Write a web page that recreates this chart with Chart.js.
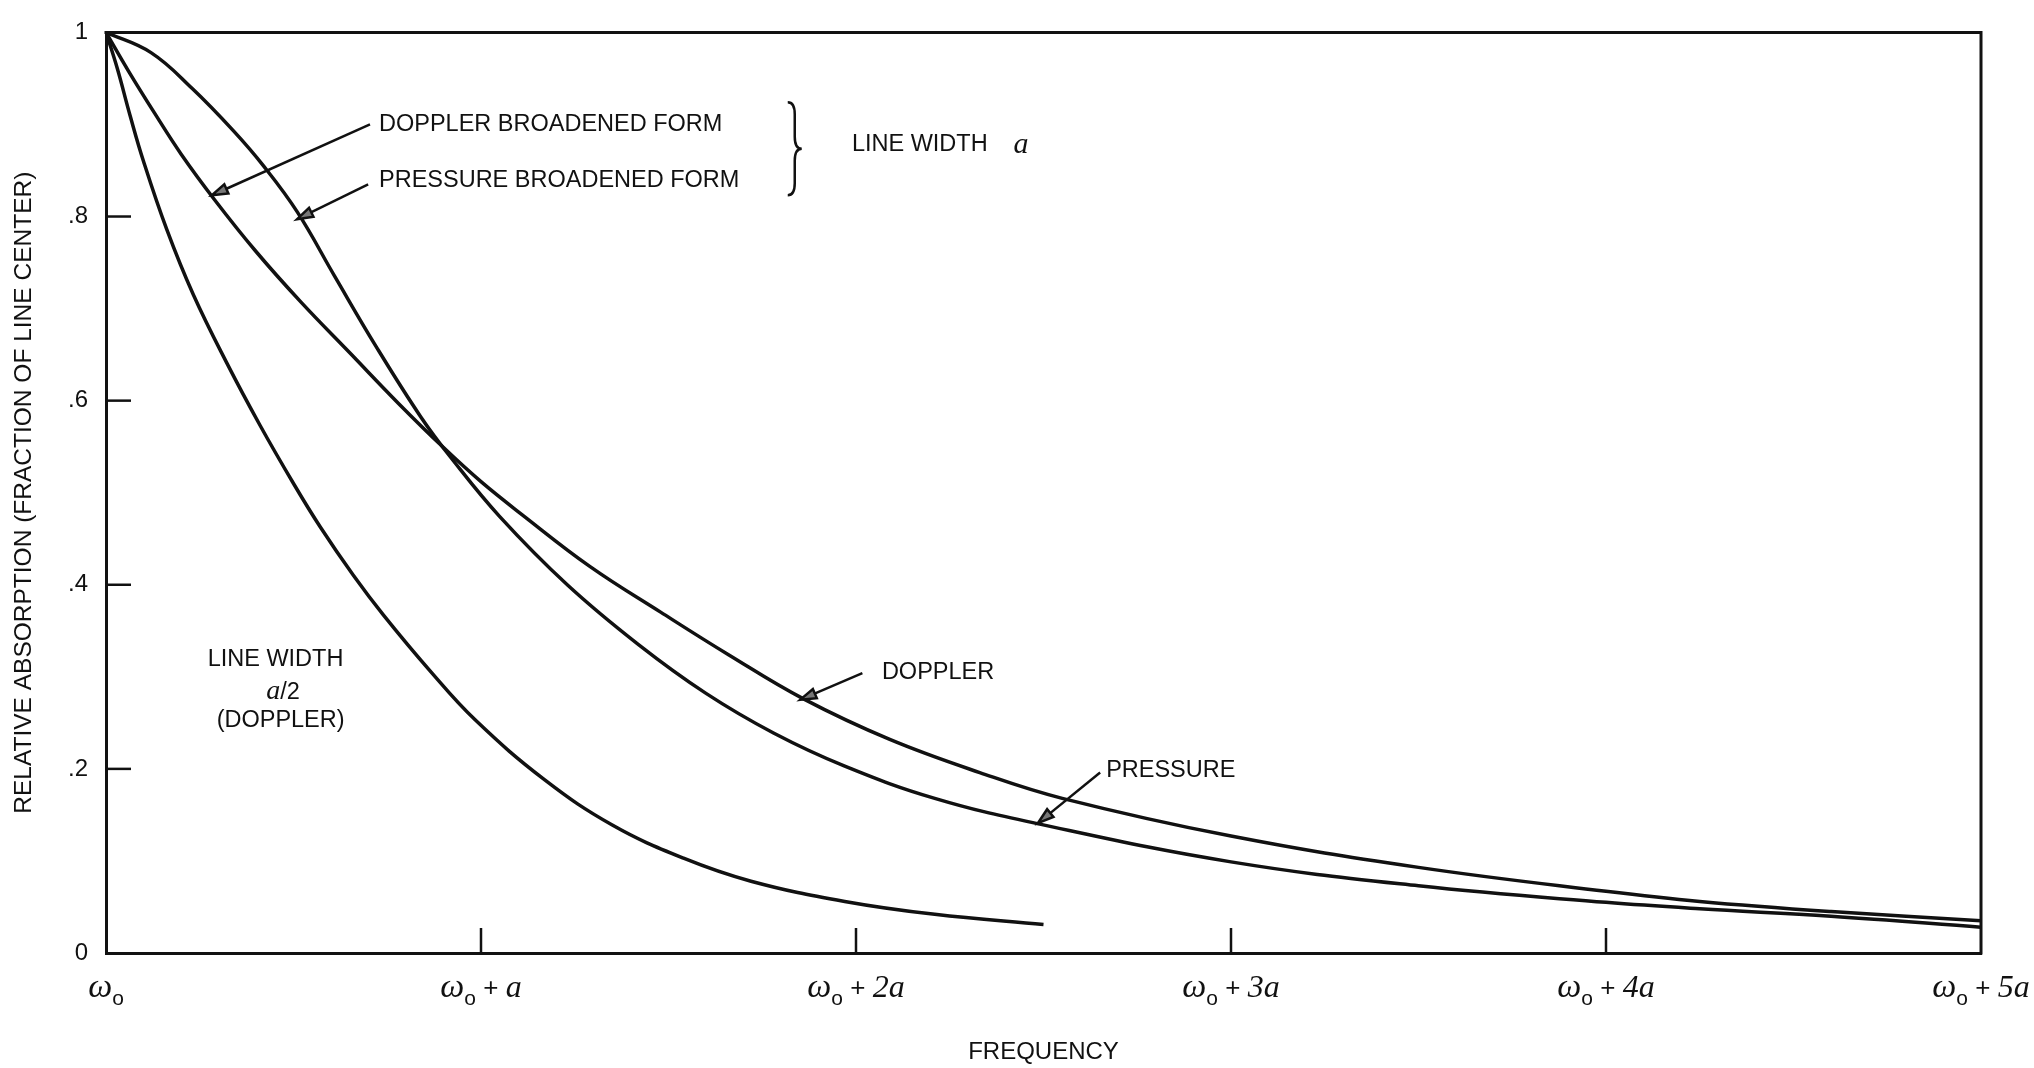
<!DOCTYPE html>
<html>
<head>
<meta charset="utf-8">
<script src="https://cdn.jsdelivr.net/npm/chart.js@4.4.1/dist/chart.umd.min.js"></script>
<style>
  html, body { margin: 0; padding: 0; background: #fff; }
  #wrap { width: 2034px; height: 1068px; }
</style>
</head>
<body>
<div id="wrap"><canvas id="absorptionChart"></canvas></div>
<script>
// frequency offset from the line centre, in units of the line width a
const dopplerX = [0, 0.06, 0.13, 0.2, 0.29, 0.4, 0.52, 0.65, 0.78, 0.9, 1.0, 1.11, 1.29, 1.48, 1.66, 1.86, 2.09, 2.33, 2.55, 3.0, 3.5, 4.0, 4.25, 4.6, 5.0];
const dopplerY = [1, 0.958, 0.912, 0.868, 0.818, 0.762, 0.707, 0.652, 0.597, 0.549, 0.512, 0.476, 0.420, 0.370, 0.324, 0.276, 0.232, 0.196, 0.168, 0.127, 0.093, 0.067, 0.056, 0.045, 0.035];

const pressureX = [0, 0.12, 0.23, 0.34, 0.42, 0.51, 0.61, 0.72, 0.84, 0.92, 1.05, 1.23, 1.42, 1.6, 1.78, 1.97, 2.21, 2.49, 3.0, 3.5, 4.0, 4.25, 4.6, 5.0];
const pressureY = [1, 0.978, 0.939, 0.893, 0.855, 0.805, 0.735, 0.659, 0.582, 0.538, 0.474, 0.400, 0.335, 0.282, 0.239, 0.203, 0.168, 0.140, 0.099, 0.073, 0.055, 0.048, 0.040, 0.028];

// doppler form with line width a/2
const halfWidthX = [0, 0.03, 0.064, 0.1, 0.162, 0.233, 0.322, 0.411, 0.5, 0.571, 0.66, 0.74, 0.863, 0.985, 1.17, 1.35, 1.54, 1.72, 1.97, 2.21, 2.5];
const halfWidthY = [1, 0.961, 0.91, 0.86, 0.786, 0.715, 0.641, 0.573, 0.51, 0.463, 0.41, 0.367, 0.307, 0.253, 0.188, 0.139, 0.103, 0.078, 0.056, 0.042, 0.031];

const xTickMultiples = ['', 'a', '2a', '3a', '4a', '5a'];
const yTickValues = [0.2, 0.4, 0.6, 0.8];

const ink = '#111';
const sans = '"Liberation Sans", Arial, Helvetica, sans-serif';
const serif = '"Liberation Serif", "Times New Roman", serif';

const toPoints = (xs, ys) => xs.map((v, i) => ({ x: v, y: ys[i] }));

// labels placed in data coordinates (x in a, y in fraction)
const notes = [
  { text: 'DOPPLER BROADENED FORM', x: 0.728, y: 0.900 },
  { text: 'PRESSURE BROADENED FORM', x: 0.728, y: 0.839 },
  { text: 'LINE WIDTH', x: 1.989, y: 0.878 },
  { text: 'LINE WIDTH', x: 0.271, y: 0.319 },
  { text: '(DOPPLER)', x: 0.295, y: 0.253 },
  { text: 'DOPPLER', x: 2.069, y: 0.305 },
  { text: 'PRESSURE', x: 2.667, y: 0.198 }
];
const arrows = [
  { from: [0.704, 0.900], to: [0.282, 0.823] },
  { from: [0.699, 0.835], to: [0.509, 0.797] },
  { from: [2.017, 0.304], to: [1.851, 0.275] },
  { from: [2.651, 0.196], to: [2.485, 0.141] }
];

function drawArrow(ctx, x0, y0, x1, y1) {
  const ang = Math.atan2(y1 - y0, x1 - x0);
  const L = 16, W = 5;
  ctx.beginPath();
  ctx.moveTo(x0, y0);
  ctx.lineTo(x1 - 10 * Math.cos(ang), y1 - 10 * Math.sin(ang));
  ctx.stroke();
  ctx.beginPath();
  ctx.moveTo(x1, y1);
  ctx.lineTo(x1 - L * Math.cos(ang) + W * Math.sin(ang), y1 - L * Math.sin(ang) - W * Math.cos(ang));
  ctx.lineTo(x1 - L * Math.cos(ang) - W * Math.sin(ang), y1 - L * Math.sin(ang) + W * Math.cos(ang));
  ctx.closePath();
  ctx.fillStyle = '#777';
  ctx.fill();
  ctx.stroke();
}

function drawBrace(ctx, x, yTop, yBot, w) {
  const ym = (yTop + yBot) / 2, r = 12, mid = x + w * 0.5;
  ctx.beginPath();
  ctx.moveTo(x, yTop);
  ctx.quadraticCurveTo(mid, yTop, mid, yTop + r);
  ctx.lineTo(mid, ym - r);
  ctx.quadraticCurveTo(mid, ym, x + w, ym);
  ctx.quadraticCurveTo(mid, ym, mid, ym + r);
  ctx.lineTo(mid, yBot - r);
  ctx.quadraticCurveTo(mid, yBot, x, yBot);
  ctx.stroke();
}

// draw a run of [text, font, dy] pieces starting at px
function drawRun(ctx, parts, px, baseline, align) {
  let total = 0;
  parts.forEach(p => { ctx.font = p[1]; total += ctx.measureText(p[0]).width; });
  let cx = align === 'center' ? px - total / 2 : px;
  ctx.textAlign = 'left';
  ctx.textBaseline = 'alphabetic';
  parts.forEach(p => {
    ctx.font = p[1];
    ctx.fillText(p[0], cx, baseline + (p[2] || 0));
    cx += ctx.measureText(p[0]).width;
  });
}

const figurePlugin = {
  id: 'figure',
  afterDraw(chart) {
    const { ctx, chartArea: ca, scales: { x, y } } = chart;
    ctx.save();
    ctx.strokeStyle = ink;
    ctx.fillStyle = ink;

    // top and right side of the frame
    ctx.lineWidth = 3;
    ctx.beginPath();
    ctx.moveTo(ca.left - 1.5, ca.top);
    ctx.lineTo(ca.right, ca.top);
    ctx.lineTo(ca.right, ca.bottom + 1.5);
    ctx.stroke();

    // inward tick marks
    ctx.lineWidth = 2.5;
    yTickValues.forEach(v => {
      const py = y.getPixelForValue(v);
      ctx.beginPath(); ctx.moveTo(ca.left, py); ctx.lineTo(ca.left + 25, py); ctx.stroke();
    });
    xTickMultiples.forEach((m, i) => {
      if (i === 0 || i === xTickMultiples.length - 1) return;
      const px = x.getPixelForValue(i);
      ctx.beginPath(); ctx.moveTo(px, ca.bottom); ctx.lineTo(px, ca.bottom - 25); ctx.stroke();
    });

    // x tick labels: omega_o + n a
    const base = ca.bottom + 44;
    xTickMultiples.forEach((m, i) => {
      const parts = [['\u03c9', 'italic 34px ' + serif, 0], ['o', '21px ' + sans, 8]];
      if (m) {
        parts.push([' + ', '26px ' + sans, -1]);
        parts.push([m, 'italic 32px ' + serif, 0]);
      }
      drawRun(ctx, parts, x.getPixelForValue(i), base, 'center');
    });

    // annotations
    ctx.font = '23.5px ' + sans;
    ctx.textAlign = 'left';
    ctx.textBaseline = 'middle';
    notes.forEach(n => ctx.fillText(n.text, x.getPixelForValue(n.x), y.getPixelForValue(n.y)));

    drawRun(ctx, [['a', 'italic 28px ' + serif, 0], ['/2', '23.5px ' + sans, 0]],
      x.getPixelForValue(0.427), y.getPixelForValue(0.285) + 8, 'left');
    drawRun(ctx, [['a', 'italic 30px ' + serif, 0]],
      x.getPixelForValue(2.42), y.getPixelForValue(0.878) + 8, 'left');

    ctx.lineWidth = 2.5;
    arrows.forEach(a => drawArrow(ctx,
      x.getPixelForValue(a.from[0]), y.getPixelForValue(a.from[1]),
      x.getPixelForValue(a.to[0]), y.getPixelForValue(a.to[1])));

    ctx.lineWidth = 2.5;
    drawBrace(ctx, x.getPixelForValue(1.818), y.getPixelForValue(0.924), y.getPixelForValue(0.823), 14);

    ctx.restore();
  }
};

const curveStyle = {
  borderColor: ink,
  borderWidth: 3.5,
  pointRadius: 0,
  fill: false,
  tension: 0.4
};

new Chart(document.getElementById('absorptionChart'), {
  type: 'line',
  data: {
    datasets: [
      { label: 'Doppler', data: toPoints(dopplerX, dopplerY), ...curveStyle },
      { label: 'Pressure', data: toPoints(pressureX, pressureY), ...curveStyle },
      { label: 'Doppler a/2', data: toPoints(halfWidthX, halfWidthY), ...curveStyle }
    ]
  },
  plugins: [figurePlugin],
  options: {
    responsive: true,
    maintainAspectRatio: false,
    animation: false,
    events: [],
    layout: { padding: { top: 20, right: 53, left: 0, bottom: 0 } },
    plugins: {
      legend: { display: false },
      tooltip: { enabled: false }
    },
    scales: {
      x: {
        type: 'linear',
        min: 0,
        max: 5,
        grid: { display: false, drawTicks: false },
        border: { display: true, color: ink, width: 3 },
        ticks: { display: false },
        title: {
          display: true,
          text: 'FREQUENCY',
          color: ink,
          font: { family: sans, size: 24, lineHeight: 1 },
          padding: { top: 0, bottom: 4 }
        },
        afterFit(axis) { axis.height = 115; }
      },
      y: {
        min: 0,
        max: 1,
        grid: { display: false, drawTicks: false },
        border: { display: true, color: ink, width: 3 },
        ticks: {
          stepSize: 0.2,
          padding: 18,
          color: ink,
          font: { family: sans, size: 24 },
          callback: v => (v === 0 || v === 1) ? String(v) : '.' + Math.round(v * 10)
        },
        title: {
          display: true,
          text: 'RELATIVE ABSORPTION (FRACTION OF LINE CENTER)',
          color: ink,
          font: { family: sans, size: 24.5, lineHeight: 1 },
          padding: { top: 12, bottom: 0 }
        },
        afterFit(axis) { axis.width = 106; }
      }
    }
  }
});
</script>
</body>
</html>
